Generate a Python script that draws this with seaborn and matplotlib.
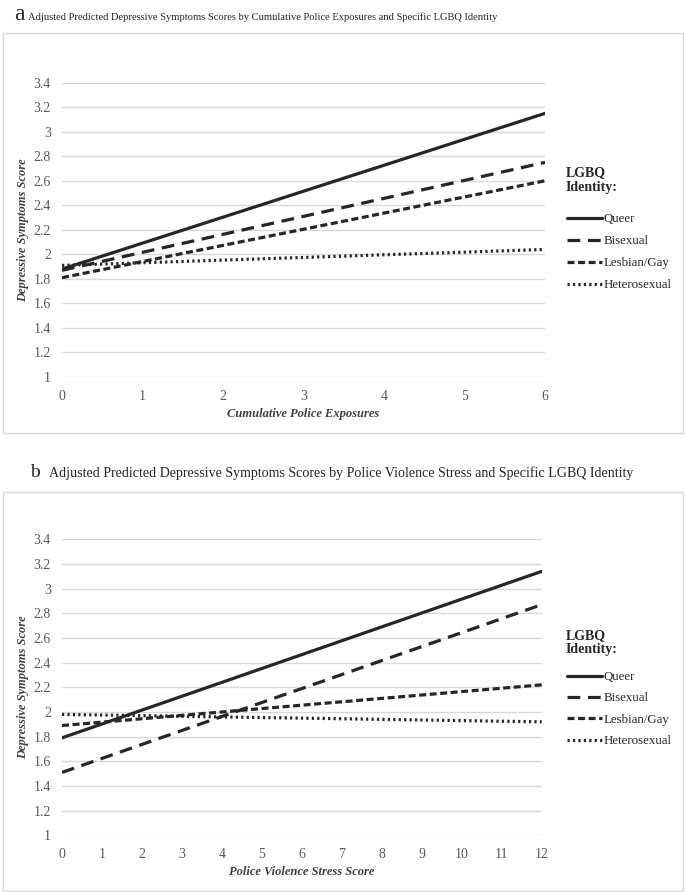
import pandas as pd
import matplotlib.pyplot as plt
import seaborn as sns
from matplotlib.patches import Rectangle

# identities (legend order)
identities = ['Queer', 'Bisexual', 'Lesbian/Gay', 'Heterosexual']

# panel a: cumulative police exposures
exposure_x = [0, 6]
exposure_queer = [1.88, 3.15]
exposure_bisexual = [1.87, 2.75]
exposure_lesbian_gay = [1.81, 2.60]
exposure_hetero = [1.91, 2.04]

# panel b: police violence stress score
stress_x = [0, 12]
stress_queer = [1.79, 3.14]
stress_bisexual = [1.51, 2.87]
stress_lesbian_gay = [1.89, 2.22]
stress_hetero = [1.98, 1.92]

y_ticks = [1, 1.2, 1.4, 1.6, 1.8, 2, 2.2, 2.4, 2.6, 2.8, 3, 3.2, 3.4]
y_tick_labels = ['1', '1.2', '1.4', '1.6', '1.8', '2', '2.2', '2.4', '2.6', '2.8', '3', '3.2', '3.4']


def long_frame(x, series):
    rows = []
    for name, vals in zip(identities, series):
        for xi, yi in zip(x, vals):
            rows.append({'x': xi, 'score': yi, 'Identity': name})
    return pd.DataFrame(rows)


df_a = long_frame(exposure_x, [exposure_queer, exposure_bisexual,
                               exposure_lesbian_gay, exposure_hetero])
df_b = long_frame(stress_x, [stress_queer, stress_bisexual,
                             stress_lesbian_gay, stress_hetero])

sns.set_style('white')
plt.rcParams['font.family'] = ['Liberation Serif', 'DejaVu Serif']

line_color = '#262626'
dash_styles = {
    'Queer': '',
    'Bisexual': (4.0, 2.4),
    'Lesbian/Gay': (2.2, 1.1),
    'Heterosexual': (0.7, 1.0),
}
palette = {k: line_color for k in identities}

fig = plt.figure(figsize=(6.85, 8.92), dpi=100)

# light panel frames
for (x0, y0, w, h) in [(3 / 685, 1 - 433 / 892, 680 / 685, 400 / 892),
                       (3 / 685, 1 - 891 / 892, 680 / 685, 399 / 892)]:
    fig.patches.append(Rectangle((x0, y0), w, h, transform=fig.transFigure,
                                 fill=False, edgecolor='#d9d9d9', lw=1.0))


def draw_panel(rect, df, xmax, xlabel, letter, letter_size, title, title_y,
               letter_x, text_x, title_size, legend_top, legend_entries_top,
               spacing):
    ax = fig.add_axes(rect)
    sns.lineplot(data=df, x='x', y='score', hue='Identity', style='Identity',
                 hue_order=identities, style_order=identities,
                 palette=palette, dashes=dash_styles, linewidth=2.3,
                 ax=ax, legend=True)
    ax.set_xlim(0, xmax)
    ax.set_ylim(1, 3.4)
    ax.set_xticks(range(0, xmax + 1))
    ax.set_yticks(y_ticks)
    ax.set_yticklabels(y_tick_labels)
    ax.grid(axis='y', color='#d9d9d9', lw=1.0)
    ax.grid(axis='x', visible=False)
    for s in ax.spines.values():
        s.set_visible(False)
    ax.tick_params(axis='both', length=0, labelsize=10, labelcolor='#595959')
    ax.tick_params(axis='x', pad=9)
    ax.tick_params(axis='y', pad=8)
    ax.set_xlabel(xlabel, fontsize=9, fontweight='bold', style='italic',
                  color='#404040', labelpad=4)
    ax.set_ylabel('Depressive Symptoms Score', fontsize=9, fontweight='bold',
                  style='italic', color='#404040', labelpad=3)
    handles, labels = ax.get_legend_handles_labels()
    leg = ax.legend(handles, labels, frameon=False, loc='upper left',
                    bbox_to_anchor=(567 / 685, legend_entries_top),
                    bbox_transform=fig.transFigure,
                    fontsize=9.3, handlelength=2.7, handletextpad=0.12,
                    labelspacing=spacing, borderaxespad=0, borderpad=0)
    for t in leg.get_texts():
        t.set_color('#262626')
    for h in leg.get_lines():
        h.set_linewidth(2.3)
    fig.text(566 / 685, legend_top, 'LGBQ\nIdentity:', fontsize=10,
             fontweight='bold', color='#262626', va='top', ha='left',
             linespacing=1.15)
    fig.text(letter_x, title_y, letter, fontsize=letter_size, va='baseline',
             color='#262626')
    fig.text(text_x, title_y, title, fontsize=title_size, va='baseline',
             color='#262626')
    return ax


draw_panel([62 / 685, 1 - 377 / 892, 483 / 685, 294.3 / 892], df_a, 6,
           'Cumulative Police Exposures', 'a', 17,
           'Adjusted Predicted Depressive Symptoms Scores by Cumulative Police '
           'Exposures and Specific LGBQ Identity', 1 - 20 / 892,
           14 / 685, 28 / 685, 7.6, 1 - 166 / 892, 1 - 213 / 892, 0.78)

draw_panel([62 / 685, 1 - 835.3 / 892, 479.7 / 685, 296 / 892], df_b, 12,
           'Police Violence Stress Score', 'b', 14,
           'Adjusted Predicted Depressive Symptoms Scores by Police Violence '
           'Stress and Specific LGBQ Identity', 1 - 477 / 892,
           30 / 685, 49 / 685, 10.1, 1 - 629 / 892, 1 - 671 / 892, 0.72)

fig.savefig('out.png', dpi=100)
